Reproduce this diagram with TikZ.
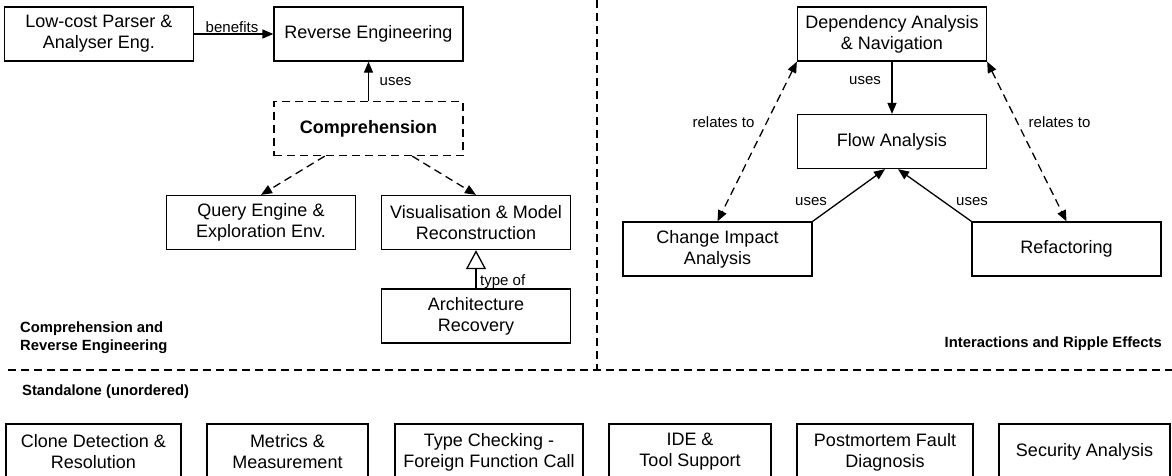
\documentclass[tikz,border=0pt]{standalone}
\usepackage{fontspec}
\setmainfont{Liberation Sans}
\usetikzlibrary{arrows.meta,calc}
\begin{document}
\begin{tikzpicture}[x=1pt,y=-1pt,
  box/.style={draw, line width=1.3pt, inner sep=0pt, align=center,
    font=\fontsize{18}{21}\selectfont, minimum width=189pt, minimum height=54pt},
  dbox/.style={box, dash pattern=on 8pt off 5pt},
  lbl/.style={inner sep=0pt, font=\fontsize{15}{18}\selectfont},
  sec/.style={inner sep=0pt, align=left, font=\bfseries\fontsize{14.8}{18}\selectfont},
  conn/.style={line width=1.3pt, -{Triangle[length=11pt,width=9pt]}},
  dconn/.style={conn, dash pattern=on 8pt off 5pt},
  bidash/.style={line width=1.3pt, dash pattern=on 8pt off 5pt,
    {Triangle[length=11pt,width=9pt]}-{Triangle[length=11pt,width=9pt]}},
  inherit/.style={line width=1.3pt, -{Triangle[open,length=19pt,width=20pt,fill=white]}},
  divider/.style={line width=1.3pt, dash pattern=on 8pt off 5pt}]
\useasboundingbox (0,0) rectangle (1172,475);

% Comprehension and Reverse Engineering
\node[box] (parser) at (99,34) {Low-cost Parser \&\\Analyser Eng.};
\node[box] (re) at (368.5,34) {Reverse Engineering};
\node[dbox, font=\bfseries\fontsize{18}{21}\selectfont] (comp) at (368.5,128.5) {Comprehension};
\node[box] (query) at (261,222.5) {Query Engine \&\\Exploration Env.};
\node[box] (vis) at (476,222.5) {Visualisation \& Model\\Reconstruction};
\node[box] (arch) at (476,316) {Architecture\\Recovery};

\draw[conn] (parser) -- (re);
\node[lbl] (lbenefits) at (232,27) {benefits};
\draw[conn] (comp) -- (re);
\node[lbl] (luses1) at (395.5,82) {uses};
\draw[dconn] ($(comp.south west)!0.27!(comp.south east)$) -- (query.north);
\draw[dconn] ($(comp.south west)!0.73!(comp.south east)$) -- (vis.north);
\draw[inherit] (arch) -- (vis);
\node[lbl, anchor=west] (ltype) at (480,282) {type of};

\node[sec, anchor=west] (seccomp) at (20,338) {Comprehension and\\Reverse Engineering};

% Interactions and Ripple Effects
\node[box] (dep) at (892,34) {Dependency Analysis\\\& Navigation};
\node[box] (flow) at (892,141.5) {Flow Analysis};
\node[box] (cia) at (717.5,249) {Change Impact\\Analysis};
\node[box] (ref) at (1066.5,249) {Refactoring};

\draw[conn] (dep) -- (flow);
\node[lbl] (luses2) at (865,81) {uses};
\draw[bidash] (dep.south west) -- (cia.north);
\node[lbl] (lrel1) at (723.5,122) {relates to};
\draw[bidash] (dep.south east) -- (ref.north);
\node[lbl] (lrel2) at (1059.5,122) {relates to};
\draw[conn] (cia.north east) -- ($(flow.south)+(-7,0)$);
\node[lbl] (luses3) at (811,202) {uses};
\draw[conn] (ref.north west) -- ($(flow.south)+(6,0)$);
\node[lbl] (luses4) at (972,202) {uses};

\node[sec, anchor=east] (secint) at (1162,344) {Interactions and Ripple Effects};

% dividers
\coordinate (vtop) at (597,0);
\coordinate (vbot) at (597,370);
\coordinate (hleft) at (8,370);
\coordinate (hright) at (1172,370);
\draw[divider] (vtop) -- (vbot);
\draw[divider] (hleft) -- (hright);

% Standalone
\node[sec, anchor=west] (secstand) at (22,392) {Standalone (unordered)};
\node[box, minimum width=175pt, minimum height=56pt] (clone) at (93.5,452) {Clone Detection \&\\Resolution};
\node[box, minimum width=161pt, minimum height=56pt] (metrics) at (287.5,452) {Metrics \&\\Measurement};
\node[box, minimum width=188pt, minimum height=56pt] (type) at (489,452) {Type Checking -\\Foreign Function Call};
\node[box, minimum width=162pt, minimum height=56pt] (ide) at (690,452) {IDE \&\\Tool Support};
\node[box, minimum width=176pt, minimum height=56pt] (post) at (885,452) {Postmortem Fault\\Diagnosis};
\node[box, minimum width=171pt, minimum height=56pt] (sec) at (1084.5,452) {Security Analysis};
\end{tikzpicture}
\end{document}
